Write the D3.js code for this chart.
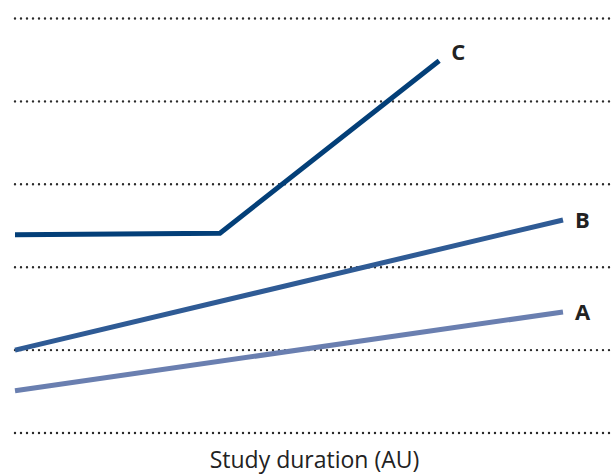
<!DOCTYPE html>
<html><head><meta charset="utf-8">
<script src="https://cdn.jsdelivr.net/npm/d3@7"></script>
<style>body{margin:0;background:#fff}svg{display:block}</style>
</head><body>
<script>
const gridValues = [0, 1, 2, 3, 4, 5];
const seriesNames = ["A", "B", "C"];
const seriesA = [[0, 0.51], [10, 1.46]];
const seriesB = [[0, 1.0], [10, 2.57]];
const seriesC = [[0, 2.39], [3.74, 2.41], [7.74, 4.49]];
const seriesColors = ["#6a7fb0", "#2f5b95", "#033f78"];
const xLabel = "Study duration (AU)";

const W = 613, H = 475;
const svg = d3.select("body").append("svg").attr("width", W).attr("height", H);
const x = d3.scaleLinear().domain([0, 10]).range([15, 563]);
const y = d3.scaleLinear().domain([0, 5]).range([433, 18.5]);

svg.append("g").selectAll("line").data(gridValues).join("line")
  .attr("x1", 15).attr("x2", W).attr("y1", d => y(d)).attr("y2", d => y(d))
  .attr("stroke", "#2a2a2a").attr("stroke-width", 2.4)
  .attr("stroke-linecap", "round").attr("stroke-dasharray", "0,6");

const allSeries = [seriesA, seriesB, seriesC];
const line = d3.line().x(d => x(d[0])).y(d => y(d[1]));
svg.append("g").selectAll("path").data(allSeries).join("path")
  .attr("d", line).attr("fill", "none")
  .attr("stroke", (d, i) => seriesColors[i]).attr("stroke-width", 5);

svg.append("g").selectAll("text").data(allSeries).join("text")
  .attr("x", d => x(d[d.length - 1][0]) + 12)
  .attr("y", d => y(d[d.length - 1][1]) + (d === seriesC ? -9 : 0))
  .attr("dy", "0.36em")
  .attr("font-family", "'Open Sans', sans-serif").attr("font-weight", "bold")
  .attr("font-size", 22).attr("fill", "#222")
  .text((d, i) => seriesNames[i]);

svg.append("text").attr("x", 314.5).attr("y", 468).attr("text-anchor", "middle")
  .attr("font-family", "'Open Sans', sans-serif").attr("font-size", 23).attr("fill", "#222")
  .text(xLabel);
</script>
</body></html>
